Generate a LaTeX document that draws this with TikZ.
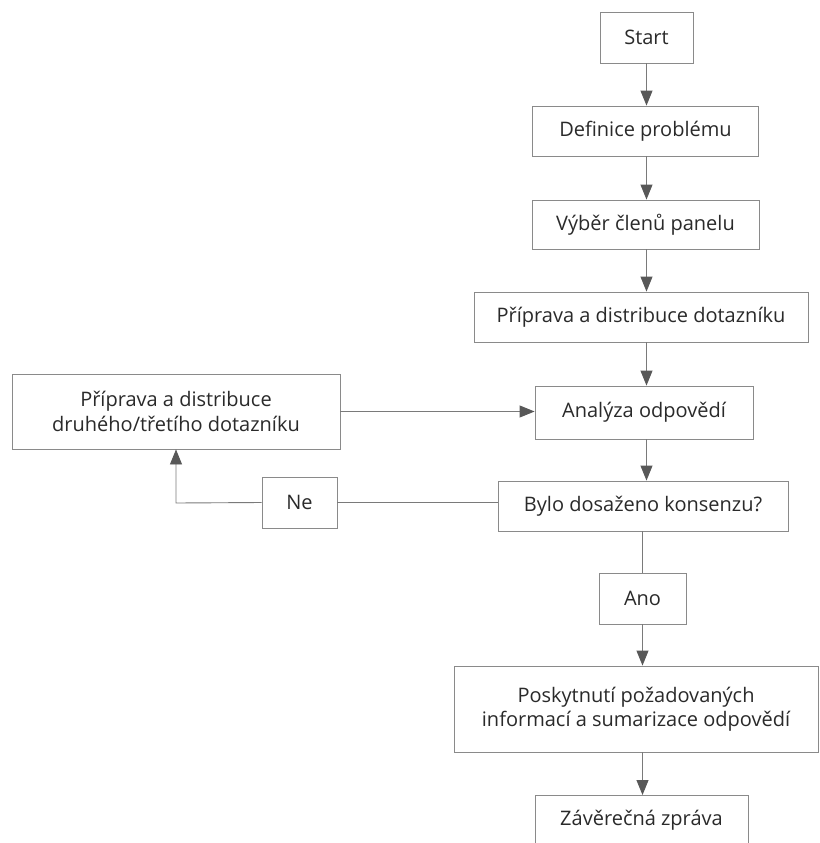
\documentclass[tikz,border=0pt]{standalone}
\usepackage{fontspec}
\setmainfont{Open Sans}
\usetikzlibrary{arrows.meta}
\definecolor{boxline}{HTML}{8A8A8A}
\definecolor{conline}{HTML}{7A7A7A}
\definecolor{tipcol}{HTML}{585858}
\definecolor{txt}{HTML}{2A2A2A}
\tikzset{
  box/.style={draw=boxline, line width=0.9pt, inner sep=0pt, align=center, text=txt,
    font=\fontsize{20}{24.5}\selectfont},
  con/.style={draw=conline, line width=0.9pt},
  arr/.style={con, -{Triangle[length=15pt,width=12pt,fill=tipcol,color=tipcol]}}
}
\begin{document}
\begin{tikzpicture}[x=1pt,y=-1pt]
\useasboundingbox (0,0) rectangle (819,843);
\clip (0,0) rectangle (819,843);
\fill[white] (0,0) rectangle (819,843);
\node[box, minimum width=93pt, minimum height=51pt] (start) at (646.5,37.5) {Start};
\node[box, minimum width=226pt, minimum height=50pt] (def) at (645.5,131) {Definice problému};
\node[box, minimum width=227pt, minimum height=49pt] (vyb) at (645.5,224.5) {Výběr členů panelu};
\node[box, minimum width=334pt, minimum height=50pt] (prip) at (641,317) {Příprava a distribuce dotazníku};
\node[box, minimum width=218pt, minimum height=53pt] (anal) at (644,412.5) {Analýza odpovědí};
\node[box, minimum width=328pt, minimum height=75pt] (left) at (176,411.5) {Příprava a distribuce\\druhého/třetího dotazníku};
\node[box, minimum width=290pt, minimum height=50pt] (bylo) at (643,506) {Bylo dosaženo konsenzu?};
\node[box, minimum width=75pt, minimum height=51pt] (ne) at (299.5,502.5) {Ne};
\node[box, minimum width=87pt, minimum height=51pt] (ano) at (642.5,598.5) {Ano};
\node[box, minimum width=364pt, minimum height=86pt] (posk) at (636,709) {Poskytnutí požadovaných\\informací a sumarizace odpovědí};
\node[box, minimum width=213pt, minimum height=100pt, anchor=north] (zav) at (641.5,795) {};
\node[text=txt, font=\fontsize{20}{24.5}\selectfont] (zavt) at (641.5,820) {Závěrečná zpráva};
\coordinate (corner) at (176,503);
\draw[arr] (start.south) -- (start.south |- def.north);
\draw[arr] (start.south |- def.south) -- (start.south |- vyb.north);
\draw[arr] (start.south |- vyb.south) -- (start.south |- prip.north);
\draw[arr] (start.south |- prip.south) -- (start.south |- anal.north);
\draw[arr] (start.south |- anal.south) -- (start.south |- bylo.north);
\draw[con] (ano.north |- bylo.south) -- (ano.north);
\draw[arr] (ano.south) -- (ano.south |- posk.north);
\draw[arr] (ano.south |- posk.south) -- (ano.south |- zav.north);
\draw[arr] (left.east) -- (left.east -| anal.west);
\draw[con] (bylo.west |- ne.east) -- (ne.east);
\draw[arr] (ne.west) -- (corner) -- (left.south);
\end{tikzpicture}
\end{document}
